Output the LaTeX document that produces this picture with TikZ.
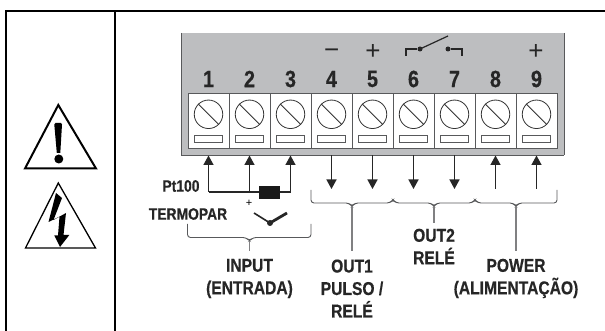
\documentclass[tikz,border=0pt]{standalone}
\usepackage{fontspec}
\setmainfont[FakeStretch=0.84, FakeBold=0.5]{Liberation Sans Bold}
\newfontfamily\symfont{Liberation Sans}
\usetikzlibrary{arrows.meta}
\definecolor{mpanel}{RGB}{189, 190, 192}
\definecolor{medge}{RGB}{88, 89, 91}
\definecolor{mstem}{RGB}{128, 128, 130}
\tikzset{
  framerule/.style={black, line width=1.9pt},
  warnrule/.style={black, line join=miter},
  cellbox/.style={draw=medge, fill=white, line width=1pt, minimum width=41pt, minimum height=54.5pt, inner sep=0pt},
  screw/.style={draw=black!80, line width=0.8pt},
  slotbox/.style={draw=medge, fill=white, line width=0.9pt, minimum width=28.5pt, minimum height=7pt, inner sep=0pt},
  numtext/.style={font=\fontsize{23.5}{23.5}\selectfont, text=black!85, inner sep=0pt},
  labeltext/.style={font=\fontsize{18.6}{22.5}\selectfont, text=black!85, align=center, inner sep=0pt},
  smalltext/.style={font=\fontsize{16.5}{16.5}\selectfont, text=black!85, inner sep=0pt},
  signtext/.style={font=\symfont\fontsize{26}{26}\selectfont, text=black!85, inner sep=0pt},
  wire/.style={black!85, line width=1.4pt},
  wirein/.style={wire, -{Triangle[length=9.5pt, width=10pt]}},
  wireout/.style={wire, {Triangle[length=9.5pt, width=10pt]}-},
  bracerule/.style={medge, line width=0.9pt, rounded corners=3pt},
  stemrule/.style={mstem, line width=1.1pt},
  contact/.style={black!85, line width=1.2pt}
}
\begin{document}
\begin{tikzpicture}[x=1pt, y=-1pt]
  \useasboundingbox (0, 0) rectangle (605, 331);
  % frame
  \draw [framerule] (605, 11) -- (6, 11) -- (6, 331);
  \draw [framerule] (115, 11) -- (115, 331);

  % warning signs
  \draw [warnrule, line width=2pt] (58.3, 105) -- (96, 168.5) -- (25, 168.5) -- cycle;
  \fill (54.3, 124.5) -- (55.5, 123) -- (61, 123) -- (62, 124.5) -- (60.3, 153) -- (56.8, 153) -- cycle;
  \fill (58.8, 159) circle (4.5);
  \draw [warnrule, line width=1.3pt] (58.3, 183) -- (95.5, 248) -- (25.5, 248) -- cycle;
  \fill (56, 193) -- (48.5, 222) -- (59.5, 216.5) -- (58, 235.5) -- (54.3, 235.5) -- (60, 247) -- (69.3, 235) -- (63.5, 235) -- (66, 213) -- (53.5, 220) -- (62, 198) -- cycle;

  % terminal block
  \fill [mpanel] (181, 33) rectangle (564, 155);
  \draw [medge, line width=0.9pt] (181, 33) -- (181, 155);
  \draw [medge, line width=0.9pt] (564, 33) -- (564, 155);
  \draw [medge, line width=1.4pt] (181, 155.3) -- (564, 155.3);
  \foreach \n in {1, ..., 9} {
    \node [cellbox] (cell\n) at ({208.5 + 41*(\n-1)}, 121) {};
    \node [screw, circle, minimum size=28.5pt, inner sep=0pt] (screw\n) at ({208.5 + 41*(\n-1)}, 114.3) {};
    \draw [screw] (screw\n.north west) -- (screw\n.south east);
    \node [slotbox] (slot\n) at ({208.5 + 41*(\n-1)}, 138.5) {};
    \node [numtext] (num\n) at ({208.5 + 41*(\n-1)}, 79) {\n};
    \coordinate (pin\n) at ({208.5 + 41*(\n-1)}, 155.5);
  }

  % polarity and contact
  \node [signtext] (minus4) at (331.7, 54) {−};
  \node [signtext] (plus5) at (373, 52) {+};
  \node [signtext] (plus9) at (536, 52) {+};
  \node [circle, fill=black!85, minimum size=5pt, inner sep=0pt] (dotsix) at (420, 49) {};
  \node [circle, fill=black!85, minimum size=5pt, inner sep=0pt] (dotseven) at (448, 49) {};
  \coordinate (blade) at (448, 36);
  \draw [contact] (406, 56) |- (dotsix);
  \draw [contact] (dotsix.center) -- (blade);
  \draw [contact] (dotseven) -| (462, 56);

  % input wiring
  \coordinate (wire1) at (208.5, 192);
  \coordinate (wire2) at (249.5, 192);
  \coordinate (wire3) at (290.5, 192);
  \draw [wirein] (wire1) -- (pin1);
  \draw [wirein] (wire2) -- (pin2);
  \draw [wirein] (wire3) -- (pin3);
  \draw [wire] (wire1) -- (wire3);
  \node [fill=black!90, minimum width=21pt, minimum height=13pt, inner sep=0pt] (sensor) at (269.5, 192.5) {};
  \node [smalltext] (ptlabel) at (181, 186) {Pt100};
  \node [smalltext] (tclabel) at (188, 214) {TERMOPAR};
  \node [font=\symfont\fontsize{11}{11}\selectfont, inner sep=0pt] (tcplus) at (249, 203) {+};
  \node [circle, fill=black!85, minimum size=6pt, inner sep=0pt] (tcjoint) at (270, 223) {};
  \coordinate (tcleft) at (254, 213);
  \coordinate (tcright) at (287, 213);
  \draw [black!85, line width=1.6pt] (tcleft) -- (tcjoint.center);
  \draw [black!85, line width=2.8pt] (tcjoint.center) -- (tcright);

  % output wiring
  \foreach \n in {4, ..., 7} {
    \coordinate (wire\n) at ({208.5 + 41*(\n-1)}, 189);
    \draw [wireout] (wire\n) -- (pin\n);
  }
  \foreach \n in {8, 9} {
    \coordinate (wire\n) at ({208.5 + 41*(\n-1)}, 189);
    \draw [wirein] (wire\n) -- (pin\n);
  }

  % braces
  \draw [bracerule] (187.5, 224) -- (187.5, 237.5) -- (246, 237.5) -- (249.5, 241) -- (253, 237.5) -- (311, 237.5) -- (311, 224);
  \draw [bracerule] (311, 190) -- (311, 203) -- (349, 203) -- (352, 206.5) -- (355, 203) -- (390, 203) -- (393, 199.5) -- (396, 203) -- (431, 203) -- (434, 206.5) -- (437, 203) -- (472, 203) -- (475, 199.5) -- (478, 203) -- (513, 203) -- (516, 206.5) -- (519, 203) -- (557, 203) -- (557, 190);
  \coordinate (bracein) at (249.5, 241);
  \coordinate (braceone) at (352, 206);
  \coordinate (bracetwo) at (434, 206);
  \coordinate (bracepower) at (516, 206);
  \coordinate (stemin) at (249.5, 251);
  \coordinate (stemone) at (352, 251);
  \coordinate (stemtwo) at (434, 223);
  \coordinate (stempower) at (516, 251);
  \draw [stemrule] (bracein) -- (stemin);
  \draw [stemrule] (braceone) -- (stemone);
  \draw [stemrule] (bracetwo) -- (stemtwo);
  \draw [stemrule] (bracepower) -- (stempower);

  % labels
  \node [labeltext] (inputlabel) at (249.5, 278.5) {INPUT\\(ENTRADA)};
  \node [labeltext] (outonelabel) at (352, 288.5) {OUT1\\PULSO /\\RELÉ};
  \node [labeltext] (outtwolabel) at (434, 246.5) {OUT2\\RELÉ};
  \node [labeltext] (powerlabel) at (516, 278.5) {POWER\\(ALIMENTAÇÃO)};
\end{tikzpicture}
\end{document}
